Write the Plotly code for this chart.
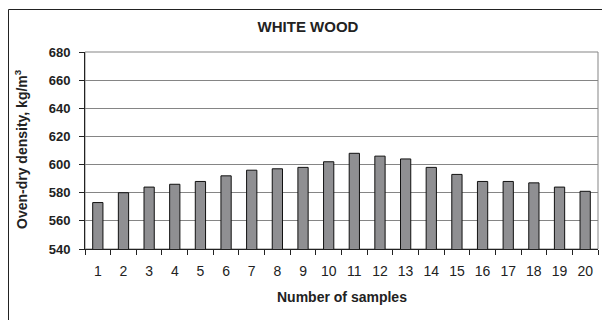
import plotly.graph_objects as go

# Oven-dry density of white wood, per sample
samples = [str(i) for i in range(1, 21)]
density = [573, 580, 584, 586, 588, 592, 596, 597, 598, 602,
           608, 606, 604, 598, 593, 588, 588, 587, 584, 581]
y_ticks = [540, 560, 580, 600, 620, 640, 660, 680]

W, H = 602, 320
ML, MR, MT, MB = 85, 4, 52, 71
PW, PH = W - ML - MR, H - MT - MB


def px_x(x):
    return (x - ML) / PW


def px_y(y):
    return (H - MB - y) / PH


FONT = "Arial, Liberation Sans, sans-serif"

fig = go.Figure(
    go.Bar(
        x=samples,
        y=density,
        marker=dict(color="#8f8f92", line=dict(color="#111111", width=1)),
        width=0.4,
    )
)

fig.update_layout(
    width=W,
    height=H,
    margin=dict(l=ML, r=MR, t=MT, b=MB),
    paper_bgcolor="white",
    plot_bgcolor="white",
    showlegend=False,
    title=dict(
        text="<b>WHITE WOOD</b>",
        font=dict(family=FONT, size=15, color="#222222"),
        xref="paper", x=px_x(308), xanchor="center",
        yref="container", y=1 - 27 / H, yanchor="middle",
    ),
    xaxis=dict(
        type="category",
        tickson="boundaries",
        ticks="outside", ticklen=5, tickcolor="#222222",
        showline=True, linecolor="#222222", linewidth=1,
        showgrid=False,
        tickfont=dict(family=FONT, size=14, color="#222222"),
        ticklabelstandoff=9,
    ),
    yaxis=dict(
        range=[540, 680],
        tickvals=y_ticks,
        ticks="outside", ticklen=5, tickcolor="#222222",
        showline=True, linecolor="#222222", linewidth=1,
        showgrid=True, gridcolor="#858585", gridwidth=1,
        tickfont=dict(family=FONT, size=13, color="#222222", weight="bold"),
        ticklabelstandoff=6,
        zeroline=False,
    ),
    annotations=[
        dict(
            text="<b>Number of samples</b>",
            xref="paper", yref="paper",
            x=0.5, y=px_y(297), xanchor="center", yanchor="middle",
            showarrow=False,
            font=dict(family=FONT, size=14, color="#222222"),
        ),
        dict(
            text="<b>Oven-dry density, kg/m<sup>3</sup></b>",
            xref="paper", yref="paper",
            x=px_x(21), y=px_y(149), xanchor="center", yanchor="middle",
            textangle=-90,
            showarrow=False,
            font=dict(family=FONT, size=14, color="#222222"),
        ),
    ],
    shapes=[
        # plot frame
        dict(type="rect", xref="paper", yref="paper", x0=0, x1=1, y0=0, y1=1,
             line=dict(color="#858585", width=1), layer="below"),
        # outer chart border
        dict(type="rect", xref="paper", yref="paper",
             x0=px_x(8.5), x1=px_x(W + 10), y0=px_y(9.5), y1=px_y(H + 10),
             line=dict(color="#222222", width=1), layer="below"),
    ],
)

fig.write_html("out.html")
